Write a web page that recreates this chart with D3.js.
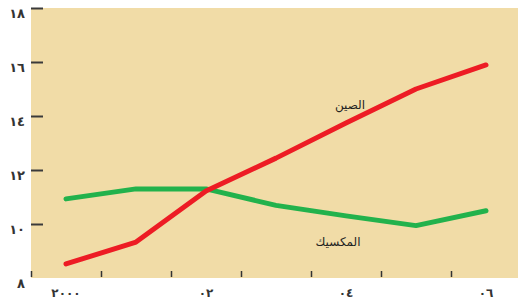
<!DOCTYPE html>
<html>
<head>
<meta charset="utf-8">
<script src="https://cdn.jsdelivr.net/npm/d3@7"></script>
<style>
  html, body { margin: 0; padding: 0; background: #fff; }
  svg { display: block; }
  text { font-family: "DejaVu Sans", "Noto Sans", sans-serif; }
</style>
</head>
<body>
<svg id="chart" width="518" height="305"></svg>
<script>
const years = [2000, 2001, 2002, 2003, 2004, 2005, 2006];
const china = [8.52, 9.33, 11.22, 12.44, 13.74, 15.0, 15.89];
const mexico = [10.93, 11.30, 11.30, 10.69, 10.30, 9.94, 10.49];
const yTicks = [8, 10, 12, 14, 16, 18];
const yTickLabels = ["٨", "١٠", "١٢", "١٤", "١٦", "١٨"];
const xLabelYears = [2000, 2002, 2004, 2006];
const xTickLabels = ["٢٠٠٠", "٠٢", "٠٤", "٠٦"];
const seriesNames = ["الصين", "المكسيك"];

const svg = d3.select("#chart");
const x = d3.scaleLinear().domain([1999.5, 2006.5]).range([31, 521]);
const y = d3.scaleLinear().domain([8, 18]).range([278, 8]);

svg.append("rect").attr("x", 31).attr("y", 8).attr("width", 518 - 31).attr("height", 270)
  .attr("fill", "#F1DCA7");

// Y ticks
const yg = svg.append("g");
yTicks.forEach((t, i) => {
  if (t !== 8) {
    yg.append("line").attr("x1", 31).attr("x2", 43).attr("y1", y(t) + 0.5).attr("y2", y(t) + 0.5)
      .attr("stroke", "#3a3a3a").attr("stroke-width", 2);
  }
  yg.append("text").attr("x", 25).attr("y", y(t) + 5).attr("dy", "0.35em")
    .attr("text-anchor", "end").attr("font-size", 13).attr("font-weight", "bold")
    .attr("fill", "#333").text(yTickLabels[i]);
});

// X ticks at year boundaries
const boundaries = d3.range(1999.5, 2006.5, 1);
svg.append("g").selectAll("line").data(boundaries).join("line")
  .attr("x1", d => Math.round(x(d)) + 0.5).attr("x2", d => Math.round(x(d)) + 0.5)
  .attr("y1", 271).attr("y2", 277)
  .attr("stroke", "#333").attr("stroke-width", 1.5);

svg.append("g").selectAll("text").data(xLabelYears).join("text")
  .attr("x", d => x(d)).attr("y", 293).attr("dy", "0.35em")
  .attr("text-anchor", "middle").attr("font-size", 12).attr("font-weight", "bold")
  .attr("fill", "#333").text((d, i) => xTickLabels[i]);

const line = d3.line().x((d, i) => x(years[i])).y(d => y(d));

svg.append("path").datum(mexico).attr("d", line).attr("fill", "none")
  .attr("stroke", "#22B24C").attr("stroke-width", 5)
  .attr("stroke-linecap", "round").attr("stroke-linejoin", "round");
svg.append("path").datum(china).attr("d", line).attr("fill", "none")
  .attr("stroke", "#ED1C24").attr("stroke-width", 5)
  .attr("stroke-linecap", "round").attr("stroke-linejoin", "round");

svg.append("text").attr("x", 350).attr("y", 105).attr("dy", "0.35em")
  .attr("text-anchor", "middle").attr("font-size", 12).attr("fill", "#222")
  .attr("direction", "rtl").text(seriesNames[0]);
svg.append("text").attr("x", 338).attr("y", 242).attr("dy", "0.35em")
  .attr("text-anchor", "middle").attr("font-size", 12).attr("fill", "#222")
  .attr("direction", "rtl").text(seriesNames[1]);
</script>
</body>
</html>
